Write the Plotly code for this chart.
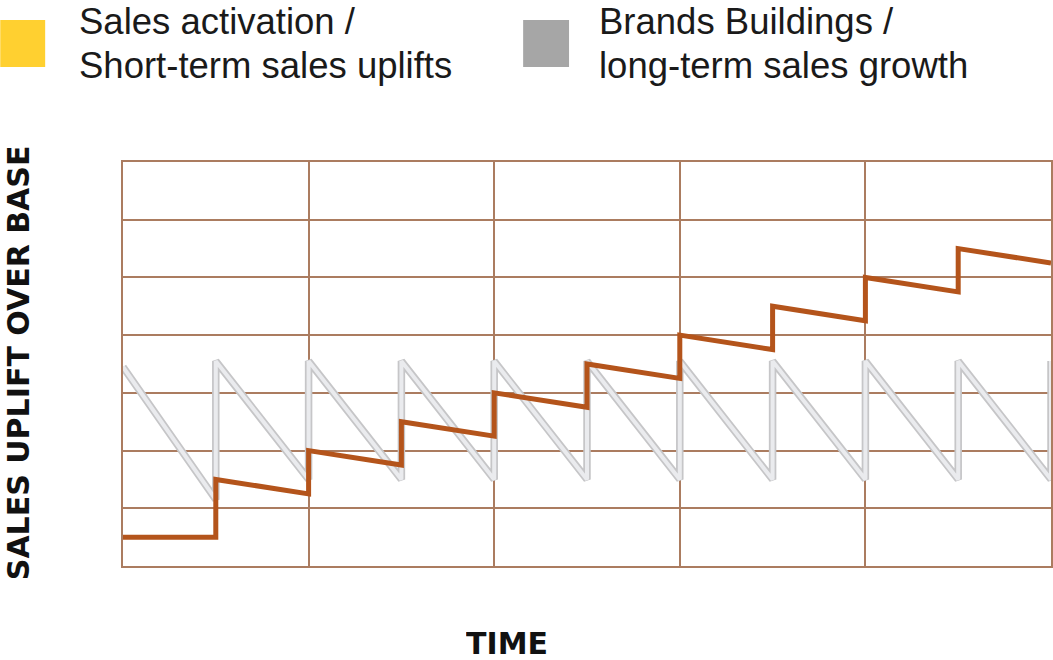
import plotly.graph_objects as go

# ---- data ----
# Short-term (sales activation) sawtooth: x in grid units, y in grid units
saw_x = [0, 0.5, 0.5, 1.0, 1.0, 1.5, 1.5, 2.0, 2.0, 2.5, 2.5, 3.0, 3.0, 3.5, 3.5, 4.0, 4.0, 4.5, 4.5, 5.0, 5.0]
saw_y = [3.45, 1.15, 3.55, 1.5, 3.55, 1.5, 3.55, 1.5, 3.55, 1.5, 3.55, 1.5, 3.55, 1.5, 3.55, 1.5, 3.55, 1.5, 3.55, 1.5, 3.55]

# Long-term (brand building) stepped growth
brand_x = [0, 0.5, 0.5, 1.0, 1.0, 1.5, 1.5, 2.0, 2.0, 2.5, 2.5, 3.0, 3.0, 3.5, 3.5, 4.0, 4.0, 4.5, 4.5, 5.0]
brand_y = [0.5, 0.5, 1.5, 1.25, 2.0, 1.75, 2.5, 2.25, 3.0, 2.75, 3.5, 3.25, 4.0, 3.75, 4.5, 4.25, 5.0, 4.75, 5.5, 5.25]

legend_lines = [["Sales activation /", "Short-term sales uplifts"],
                ["Brands Buildings /", "long-term sales growth"]]
legend_colors = ["#FFD030", "#A6A6A6"]
y_title = "SALES UPLIFT OVER BASE"
x_title = "TIME"

W, H = 1053, 660
L, R, T, B = 123, 0, 162, 94
PW, PH = W - L - R, H - T - B

def px(X):
    return (X - L) / PW

def py(Y):
    return (H - B - Y) / PH

GRID = "#ab7c60"
fig = go.Figure()
fig.add_trace(go.Scatter(x=saw_x, y=saw_y, mode="lines",
                         line=dict(color="#c6c6c8", width=7.5), hoverinfo="skip", showlegend=False))
fig.add_trace(go.Scatter(x=saw_x, y=saw_y, mode="lines",
                         line=dict(color="#eaebee", width=4), hoverinfo="skip", showlegend=False))
fig.add_trace(go.Scatter(x=brand_x, y=brand_y, mode="lines",
                         line=dict(color="#b4541b", width=5), hoverinfo="skip", showlegend=False))

shapes = []
for (x0, x1), col in zip([(0, 45), (524, 570)], legend_colors):
    shapes.append(dict(type="rect", xref="paper", yref="paper",
                       x0=px(x0), x1=px(x1), y0=py(67), y1=py(20),
                       fillcolor=col, line=dict(width=0)))

annotations = []
for xpos, lines in zip([77, 598], legend_lines):
    for ypos, txt in zip([21.5, 65.5], lines):
        annotations.append(dict(text=txt, xref="paper", yref="paper", x=px(xpos), y=py(ypos),
                                xanchor="left", yanchor="middle", align="left", showarrow=False,
                                font=dict(family="Liberation Sans, Arial", size=36.5, color="#1a1a1a")))
annotations.append(dict(text=y_title, xref="paper", yref="paper", x=px(18), y=py(363),
                        xanchor="center", yanchor="middle", textangle=-90, showarrow=False,
                        height=26, borderpad=0,
                        font=dict(family="Arial Black, DejaVu Sans", size=30, color="#111111", weight=900)))
annotations.append(dict(text=x_title, xref="paper", yref="paper", x=px(508), y=py(643),
                        xanchor="center", yanchor="middle", showarrow=False,
                        height=26, borderpad=0,
                        font=dict(family="Arial Black, DejaVu Sans", size=30, color="#111111", weight=900)))

fig.update_layout(
    width=W, height=H, margin=dict(l=L, r=R, t=T, b=B),
    paper_bgcolor="white", plot_bgcolor="white",
    shapes=shapes, annotations=annotations,
    xaxis=dict(range=[0, 5], tick0=0, dtick=1, showticklabels=False, ticks="",
               showgrid=True, gridcolor=GRID, gridwidth=2, zeroline=False,
               showline=True, linecolor=GRID, linewidth=2, mirror=True, fixedrange=True),
    yaxis=dict(range=[0, 7], tick0=0, dtick=1, showticklabels=False, ticks="",
               showgrid=True, gridcolor=GRID, gridwidth=2, zeroline=False,
               showline=True, linecolor=GRID, linewidth=2, mirror=True, fixedrange=True),
)
fig.write_html("out.html", config={"displayModeBar": False})
